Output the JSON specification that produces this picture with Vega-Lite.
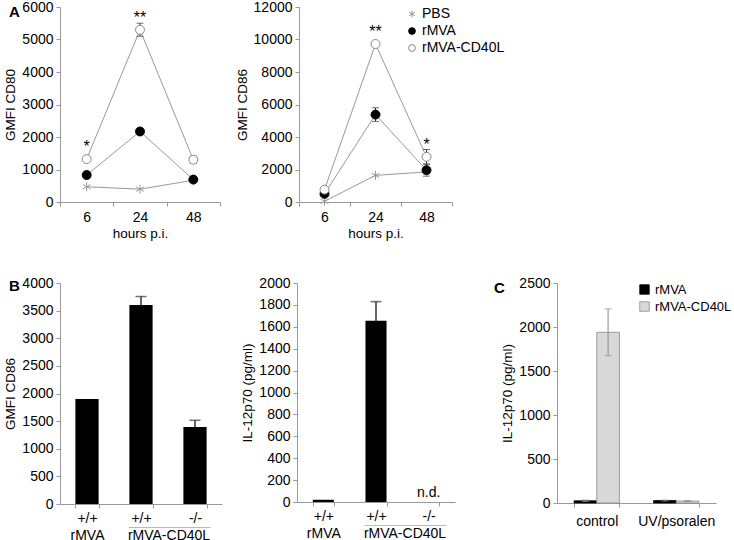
{
  "$schema": "https://vega.github.io/schema/vega-lite/v6.json",
  "padding": {"left": 3, "top": 0, "right": 0, "bottom": 0},
  "background": "white",
  "config": {
    "view": {"stroke": null},
    "font": "Liberation Sans",
    "axis": {"grid": false, "domainColor": "#999", "tickColor": "#999", "tickSize": 4, "labelFontSize": 14, "labelColor": "#000", "titleFontSize": 13.5, "titleFontWeight": "normal", "titleColor": "#000", "labelFont": "Liberation Sans", "titleFont": "Liberation Sans", "labelPadding": 3},
    "legend": {"labelFontSize": 14, "labelFont": "Liberation Sans", "labelColor": "#000"},
    "title": {"fontSize": 15, "fontWeight": "bold", "anchor": "start", "frame": "group", "font": "Liberation Sans", "offset": 0, "baseline": "middle"}
  },
  "spacing": 36,
  "resolve": {"scale": {"fill": "independent", "stroke": "independent", "shape": "independent", "color": "independent"}},
  "vconcat": [
    {
      "hconcat": [
        {
          "width": 160, "height": 195,
          "title": {"text": "A", "dx": -51, "dy": 24},
          "data": {"values": [
            {"time": "6", "group": "PBS", "value": 470, "err": 0, "sig": ""},
            {"time": "24", "group": "PBS", "value": 395, "err": 0, "sig": ""},
            {"time": "48", "group": "PBS", "value": 670, "err": 0, "sig": ""},
            {"time": "6", "group": "rMVA", "value": 830, "err": 0, "sig": ""},
            {"time": "24", "group": "rMVA", "value": 2170, "err": 0, "sig": ""},
            {"time": "48", "group": "rMVA", "value": 690, "err": 0, "sig": ""},
            {"time": "6", "group": "rMVA-CD40L", "value": 1320, "err": 0, "sig": "*"},
            {"time": "24", "group": "rMVA-CD40L", "value": 5300, "err": 200, "sig": "**"},
            {"time": "48", "group": "rMVA-CD40L", "value": 1300, "err": 110, "sig": ""}
          ]},
          "encoding": {
            "x": {"field": "time", "type": "nominal", "sort": ["6", "24", "48"], "scale": {"paddingInner": 0, "paddingOuter": 0}, "axis": {"title": "hours p.i.", "labelAngle": 0, "tickBand": "extent", "labelPadding": 4, "titlePadding": 2}},
            "y": {"field": "value", "type": "quantitative", "scale": {"domain": [0, 6000]}, "axis": {"values": [0, 1000, 2000, 3000, 4000, 5000, 6000], "format": "d", "title": "GMFI CD80", "titlePadding": 4}}
          },
          "layer": [
            {"mark": {"type": "line", "color": "#999", "strokeWidth": 1}, "encoding": {"detail": {"field": "group"}}},
            {"transform": [{"filter": "datum.err > 0"}], "mark": {"type": "errorbar", "ticks": true, "color": "#333", "size": 7, "thickness": 1}, "encoding": {"yError": {"field": "err"}}},
            {"mark": {"type": "point", "size": 80, "strokeWidth": 1, "opacity": 1},
             "encoding": {
               "shape": {"field": "group", "type": "nominal", "scale": {"domain": ["PBS", "rMVA", "rMVA-CD40L"], "range": ["M0,-1L0,1M-0.866,-0.5L0.866,0.5M-0.866,0.5L0.866,-0.5", "circle", "circle"]}, "legend": null},
               "fill": {"field": "group", "type": "nominal", "scale": {"domain": ["PBS", "rMVA", "rMVA-CD40L"], "range": ["#999", "#000", "#fff"]}, "legend": null},
               "stroke": {"field": "group", "type": "nominal", "scale": {"domain": ["PBS", "rMVA", "rMVA-CD40L"], "range": ["#999", "#000", "#888"]}, "legend": null}
             }},
            {"transform": [{"filter": "datum.sig != ''"}], "mark": {"type": "text", "fontSize": 16, "dy": -7, "baseline": "alphabetic", "font": "Liberation Sans"}, "encoding": {"text": {"field": "sig"}}}
          ]
        },
        {
          "width": 153, "height": 195,
          "data": {"values": [
            {"time": "6", "group": "PBS", "value": 40, "err": 0, "sig": ""},
            {"time": "24", "group": "PBS", "value": 1640, "err": 0, "sig": ""},
            {"time": "48", "group": "PBS", "value": 1850, "err": 0, "sig": ""},
            {"time": "6", "group": "rMVA", "value": 500, "err": 0, "sig": ""},
            {"time": "24", "group": "rMVA", "value": 5380, "err": 420, "sig": ""},
            {"time": "48", "group": "rMVA", "value": 1960, "err": 370, "sig": ""},
            {"time": "6", "group": "rMVA-CD40L", "value": 760, "err": 0, "sig": ""},
            {"time": "24", "group": "rMVA-CD40L", "value": 9720, "err": 0, "sig": "**"},
            {"time": "48", "group": "rMVA-CD40L", "value": 2780, "err": 450, "sig": "*"}
          ]},
          "encoding": {
            "x": {"field": "time", "type": "nominal", "sort": ["6", "24", "48"], "scale": {"paddingInner": 0, "paddingOuter": 0}, "axis": {"title": "hours p.i.", "labelAngle": 0, "tickBand": "extent", "labelPadding": 4, "titlePadding": 2}},
            "y": {"field": "value", "type": "quantitative", "scale": {"domain": [0, 12000]}, "axis": {"values": [0, 2000, 4000, 6000, 8000, 10000, 12000], "format": "d", "title": "GMFI CD86", "titlePadding": 4}}
          },
          "layer": [
            {"mark": {"type": "line", "color": "#999", "strokeWidth": 1}, "encoding": {"detail": {"field": "group"}}},
            {"transform": [{"filter": "datum.err > 0"}], "mark": {"type": "errorbar", "ticks": true, "color": "#333", "size": 7, "thickness": 1}, "encoding": {"yError": {"field": "err"}}},
            {"mark": {"type": "point", "size": 80, "strokeWidth": 1, "opacity": 1},
             "encoding": {
               "shape": {"field": "group", "type": "nominal", "scale": {"domain": ["PBS", "rMVA", "rMVA-CD40L"], "range": ["M0,-1L0,1M-0.866,-0.5L0.866,0.5M-0.866,0.5L0.866,-0.5", "circle", "circle"]},
                 "legend": {"title": null, "orient": "none", "legendX": 106, "legendY": 0, "symbolSize": 45, "labelOffset": 3, "rowPadding": 3, "symbolStrokeWidth": 1}},
               "fill": {"field": "group", "type": "nominal", "scale": {"domain": ["PBS", "rMVA", "rMVA-CD40L"], "range": ["#999", "#000", "#fff"]}},
               "stroke": {"field": "group", "type": "nominal", "scale": {"domain": ["PBS", "rMVA", "rMVA-CD40L"], "range": ["#999", "#000", "#888"]}}
             }},
            {"transform": [{"filter": "datum.sig != ''"}], "mark": {"type": "text", "fontSize": 16, "dy": -7, "baseline": "alphabetic", "font": "Liberation Sans"}, "encoding": {"text": {"field": "sig"}}}
          ]
        }
      ],
      "spacing": 79,
      "bounds": "flush",
      "resolve": {"scale": {"fill": "independent", "stroke": "independent", "shape": "independent"}}
    },
    {
      "hconcat": [
        {
          "hconcat": [
            {
              "width": 162, "height": 221,
              "title": {"text": "B", "dx": -51, "dy": 22},
              "layer": [
                {
                  "data": {"values": [
                    {"cat": "+/+|rMVA", "value": 1900, "err": 0},
                    {"cat": "+/+|rMVA-CD40L", "value": 3600, "err": 155},
                    {"cat": "-/-|rMVA-CD40L", "value": 1395, "err": 120}
                  ]},
                  "encoding": {
                    "x": {"field": "cat", "type": "nominal", "sort": ["+/+|rMVA", "+/+|rMVA-CD40L", "-/-|rMVA-CD40L"], "scale": {"paddingInner": 0.57, "paddingOuter": 0.285},
                      "axis": {"title": null, "orient": "bottom", "labelAngle": 0, "tickBand": "extent", "labelPadding": 3, "labelLineHeight": 17, "labelExpr": "datum.value == null ? '' : (datum.value == '+/+|rMVA' ? ['+/+', 'rMVA'] : split(datum.value, '|')[0])"}},
                    "y": {"field": "value", "type": "quantitative", "scale": {"domain": [0, 4000]}, "axis": {"values": [0, 500, 1000, 1500, 2000, 2500, 3000, 3500, 4000], "format": "d", "title": "GMFI CD86", "titlePadding": 4}}
                  },
                  "layer": [
                    {"transform": [{"filter": "datum.err > 0"}], "mark": {"type": "errorbar", "ticks": true, "color": "#333", "size": 11, "thickness": 1.5}, "encoding": {"yError": {"field": "err"}}},
                    {"mark": {"type": "bar", "color": "#000"}}
                  ]
                },
                {
                  "data": {"values": [{"grp": "rMVA-CD40L"}]},
                  "mark": {"type": "rule", "opacity": 0},
                  "encoding": {
                    "x": {"field": "grp", "type": "nominal", "scale": {"range": [68, 150]},
                      "axis": {"title": null, "orient": "bottom", "offset": 23, "ticks": false, "labelAngle": 0, "labelPadding": 1, "domainColor": "#bbb"}}
                  }
                }
              ],
              "resolve": {"scale": {"x": "independent"}}
            },
            {
              "width": 158, "height": 219,
              "layer": [
                {
                  "data": {"values": [
                    {"cat": "+/+|rMVA", "value": 21, "err": 0, "note": ""},
                    {"cat": "+/+|rMVA-CD40L", "value": 1655, "err": 175, "note": ""},
                    {"cat": "-/-|rMVA-CD40L", "value": 0, "err": 0, "note": "n.d."}
                  ]},
                  "encoding": {
                    "x": {"field": "cat", "type": "nominal", "sort": ["+/+|rMVA", "+/+|rMVA-CD40L", "-/-|rMVA-CD40L"], "scale": {"paddingInner": 0.6, "paddingOuter": 0.3},
                      "axis": {"title": null, "orient": "bottom", "labelAngle": 0, "tickBand": "extent", "labelPadding": 3, "labelLineHeight": 17, "labelExpr": "datum.value == null ? '' : (datum.value == '+/+|rMVA' ? ['+/+', 'rMVA'] : split(datum.value, '|')[0])"}},
                    "y": {"field": "value", "type": "quantitative", "scale": {"domain": [0, 2000]}, "axis": {"values": [0, 200, 400, 600, 800, 1000, 1200, 1400, 1600, 1800, 2000], "format": "d", "title": "IL-12p70 (pg/ml)", "titlePadding": 4}}
                  },
                  "layer": [
                    {"transform": [{"filter": "datum.err > 0"}], "mark": {"type": "errorbar", "ticks": true, "color": "#333", "size": 11, "thickness": 1.5}, "encoding": {"yError": {"field": "err"}}},
                    {"mark": {"type": "bar", "color": "#000"}},
                    {"transform": [{"filter": "datum.note != ''"}], "mark": {"type": "text", "fontSize": 14, "baseline": "bottom", "dy": -2, "font": "Liberation Sans"}, "encoding": {"text": {"field": "note"}}}
                  ]
                },
                {
                  "data": {"values": [{"grp": "rMVA-CD40L"}]},
                  "mark": {"type": "rule", "opacity": 0},
                  "encoding": {
                    "x": {"field": "grp", "type": "nominal", "scale": {"range": [67, 149]},
                      "axis": {"title": null, "orient": "bottom", "offset": 23, "ticks": false, "labelAngle": 0, "labelPadding": 1, "domainColor": "#bbb"}}
                  }
                }
              ],
              "resolve": {"scale": {"x": "independent"}}
            }
          ],
          "spacing": 75,
          "bounds": "flush"
        },
        {
          "width": 159, "height": 220,
          "title": {"text": "C", "dx": -63, "dy": 24},
          "data": {"values": [
            {"cond": "control", "group": "rMVA", "value": 25, "err": 8},
            {"cond": "control", "group": "rMVA-CD40L", "value": 1940, "err": 265},
            {"cond": "UV/psoralen", "group": "rMVA", "value": 28, "err": 6},
            {"cond": "UV/psoralen", "group": "rMVA-CD40L", "value": 22, "err": 5}
          ]},
          "encoding": {
            "x": {"field": "cond", "type": "nominal", "sort": ["control", "UV/psoralen"], "scale": {"paddingInner": 0.43, "paddingOuter": 0.215},
              "axis": {"title": null, "labelAngle": 0, "tickBand": "extent", "labelPadding": 7}},
            "xOffset": {"field": "group", "type": "nominal", "sort": ["rMVA", "rMVA-CD40L"], "scale": {"paddingInner": 0, "paddingOuter": 0}},
            "y": {"field": "value", "type": "quantitative", "scale": {"domain": [0, 2500]}, "axis": {"values": [0, 500, 1000, 1500, 2000, 2500], "format": "d", "title": "IL-12p70 (pg/ml)", "titlePadding": 4}}
          },
          "layer": [
            {"mark": {"type": "bar", "strokeWidth": 0.8},
             "encoding": {
               "fill": {"field": "group", "type": "nominal", "scale": {"domain": ["rMVA", "rMVA-CD40L"], "range": ["#000", "#d9d9d9"]},
                 "legend": {"title": null, "orient": "right", "offset": -78, "symbolType": "square", "symbolSize": 90, "labelOffset": 4, "labelFontSize": 13, "rowPadding": 3, "symbolStrokeWidth": 0.8}},
               "stroke": {"field": "group", "type": "nominal", "scale": {"domain": ["rMVA", "rMVA-CD40L"], "range": ["#000", "#888"]}}
             }},
            {"mark": {"type": "errorbar", "ticks": true, "color": "#888", "size": 7, "thickness": 1}, "encoding": {"yError": {"field": "err"}}}
          ]
        }
      ],
      "spacing": 39,
      "resolve": {"scale": {"fill": "independent", "stroke": "independent"}, "legend": {"fill": "independent", "stroke": "independent"}}
    }
  ]
}
